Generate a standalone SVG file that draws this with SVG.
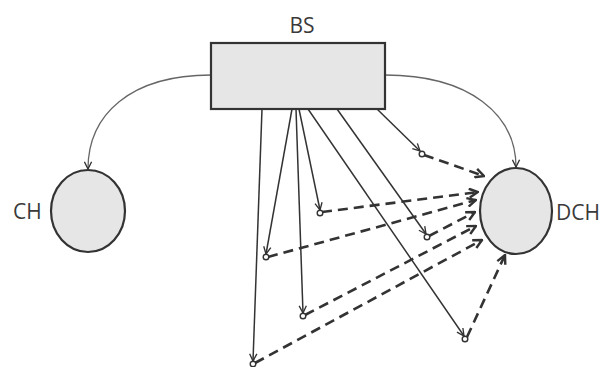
<svg xmlns="http://www.w3.org/2000/svg" width="605" height="367" viewBox="0 0 605 367">
  <style>
    .node { fill: #e6e6e6; stroke: #333; stroke-width: 2.2; }
    .label { font-family: "Open Sans", "Liberation Sans", sans-serif; font-size: 21px; fill: #3a3a3a; }
    .curve { fill: none; stroke: #666; stroke-width: 1.3; marker-end: url(#thin); }
    .link { fill: none; stroke: #333; stroke-width: 1.5; marker-end: url(#thin); }
    .relay { fill: none; stroke: #333; stroke-width: 2.6; stroke-dasharray: 10 6; marker-end: url(#bold); }
    .dot { fill: #fff; stroke: #333; stroke-width: 1.4; }
  </style>
  <defs>
    <marker id="thin" viewBox="0 0 10 10" refX="9" refY="5" markerWidth="9" markerHeight="9" markerUnits="userSpaceOnUse" orient="auto">
      <path d="M1,1 L9,5 L1,9" fill="none" stroke="#333" stroke-width="1.5"/>
    </marker>
    <marker id="bold" viewBox="0 0 10 10" refX="9" refY="5" markerWidth="11" markerHeight="11" markerUnits="userSpaceOnUse" orient="auto">
      <path d="M1,1 L9,5 L1,9" fill="none" stroke="#333" stroke-width="2.2"/>
    </marker>
  </defs>

  <rect width="605" height="367" fill="#fff"/>

  <g id="connectors">
    <path class="curve" d="M211,75 C130,75 88,115 88,169"/>
    <path class="curve" d="M385,75 C470,75 516,115 516,167"/>

    <line class="link" x1="262" y1="109" x2="253" y2="361"/>
    <line class="link" x1="292" y1="109" x2="266" y2="254"/>
    <line class="link" x1="296" y1="109" x2="303" y2="313"/>
    <line class="link" x1="299" y1="109" x2="320" y2="210"/>
    <line class="link" x1="308" y1="109" x2="464" y2="336"/>
    <line class="link" x1="337" y1="109" x2="426" y2="234"/>
    <line class="link" x1="377" y1="109" x2="420" y2="151"/>

    <line class="relay" x1="424" y1="155" x2="484" y2="176"/>
    <line class="relay" x1="322" y1="212" x2="478" y2="192"/>
    <line class="relay" x1="268" y1="257" x2="476" y2="200"/>
    <line class="relay" x1="429" y1="236" x2="475" y2="212"/>
    <line class="relay" x1="305" y1="315" x2="476" y2="226"/>
    <line class="relay" x1="255" y1="363" x2="482" y2="240"/>
    <line class="relay" x1="467" y1="337" x2="505" y2="255"/>
  </g>

  <g id="BS">
    <rect class="node" x="211" y="43" width="174" height="66"/>
    <text class="label" x="302" y="33" text-anchor="middle">BS</text>
  </g>

  <g id="CH">
    <ellipse class="node" cx="88" cy="211" rx="37" ry="41"/>
    <text class="label" x="13" y="219">CH</text>
  </g>

  <g id="DCH">
    <ellipse class="node" cx="516" cy="211" rx="36" ry="43"/>
    <text class="label" x="556" y="220">DCH</text>
  </g>

  <g id="relays">
    <circle class="dot" cx="422" cy="154" r="2.8"/>
    <circle class="dot" cx="320" cy="213" r="2.8"/>
    <circle class="dot" cx="266" cy="257" r="2.8"/>
    <circle class="dot" cx="427" cy="237" r="2.8"/>
    <circle class="dot" cx="303" cy="316" r="2.8"/>
    <circle class="dot" cx="253" cy="364" r="2.8"/>
    <circle class="dot" cx="465" cy="339" r="2.8"/>
  </g>
</svg>
